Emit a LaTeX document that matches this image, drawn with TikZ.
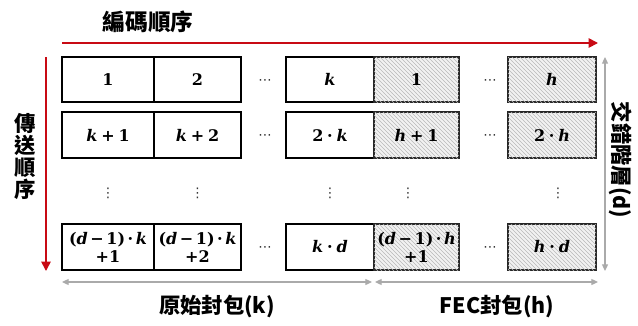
\documentclass[tikz,border=0pt]{standalone}
\usepackage{fontspec}
\newfontfamily\cjk{Noto Sans CJK TC}
\newfontfamily\cellfont{DejaVu Serif}
\newfontfamily\symfont{DejaVu Sans}
\usetikzlibrary{patterns,arrows.meta}
\definecolor{ordred}{RGB}{200,10,20}
\definecolor{dimarrow}{RGB}{170,170,170}
\newcommand\vi[1]{\textit{#1}}
\newcommand\op[1]{\hspace{0.24em}#1\hspace{0.24em}}
\newcommand\opn[1]{\hspace{0.16em}#1\hspace{0.16em}}
\tikzset{
  cell/.style={draw=black, line width=1.1pt, inner sep=0pt, font=\cellfont\bfseries\fontsize{12}{13.5}\selectfont, align=center},
  fec/.style={cell, draw=black!85, fill=gray!10, postaction={pattern=north west lines, pattern color=gray!55}},
  redarrow/.style={draw=ordred, line width=1.3pt, -{Triangle[length=7pt,width=7pt]}},
  grayarrow/.style={draw=dimarrow, line width=0.9pt, {Triangle[length=5pt,width=4.5pt]}-{Triangle[length=5pt,width=4.5pt]}},
  lbl/.style={font=\cjk\bfseries\fontsize{16}{18}\selectfont, inner sep=0pt},
  dotsnode/.style={font=\symfont\fontsize{10}{12}\selectfont, inner sep=0pt, text=black!80}
}
\begin{document}
\begin{tikzpicture}[x=0.75pt,y=-0.75pt]
\useasboundingbox (0,0) rectangle (638,325);
% row 1
\node[cell, minimum width=92*0.75pt, minimum height=45*0.75pt] (a11) at (108,79.5) {1};
\node[cell, minimum width=87*0.75pt, minimum height=45*0.75pt] (a12) at (197.5,79.5) {2};
\node[cell, minimum width=88*0.75pt, minimum height=45*0.75pt] (a1k) at (330,79.5) {\vi{k}};
\node[fec, minimum width=85*0.75pt, minimum height=45*0.75pt] (b11) at (416.5,79.5) {1};
\node[fec, minimum width=88*0.75pt, minimum height=45*0.75pt] (b1h) at (552,79.5) {\vi{h}};
% row 2
\node[cell, minimum width=92*0.75pt, minimum height=46*0.75pt] (a21) at (108,135) {\vi{k}\op{+}1};
\node[cell, minimum width=87*0.75pt, minimum height=46*0.75pt] (a22) at (197.5,135) {\vi{k}\op{+}2};
\node[cell, minimum width=88*0.75pt, minimum height=46*0.75pt] (a2k) at (330,135) {2\op{·}\vi{k}};
\node[fec, minimum width=85*0.75pt, minimum height=46*0.75pt] (b21) at (416.5,135) {\vi{h}\op{+}1};
\node[fec, minimum width=88*0.75pt, minimum height=46*0.75pt] (b2h) at (552,135) {2\op{·}\vi{h}};
% row d
\node[cell, minimum width=92*0.75pt, minimum height=46*0.75pt] (ad1) at (108,247) {(\vi{d}\opn{−}1)\opn{·}\vi{k}\\+1};
\node[cell, minimum width=87*0.75pt, minimum height=46*0.75pt] (ad2) at (197.5,247) {(\vi{d}\opn{−}1)\opn{·}\vi{k}\\+2};
\node[cell, minimum width=88*0.75pt, minimum height=46*0.75pt] (adk) at (330,247) {\vi{k}\op{·}\vi{d}};
\node[fec, minimum width=85*0.75pt, minimum height=46*0.75pt] (bd1) at (416.5,247) {(\vi{d}\opn{−}1)\opn{·}\vi{h}\\+1};
\node[fec, minimum width=88*0.75pt, minimum height=46*0.75pt] (bdh) at (552,247) {\vi{h}\op{·}\vi{d}};
% horizontal dots
\foreach \y/\n in {82/1,137.5/2,249.5/d}{
  \node[dotsnode] (hd\n a) at (265,\y) {⋯};
  \node[dotsnode] (hd\n b) at (490,\y) {⋯};
}
% vertical dots
\foreach \x/\n in {108/1,197.5/2,330/3,408/4,558/5}{
  \node[dotsnode] (vd\n) at (\x,193) {⋮};
}
% red arrows
\coordinate (ts) at (62,43);
\coordinate (te) at (598,43);
\draw[redarrow] (ts) -- (te);
\coordinate (ls) at (46,57);
\coordinate (le) at (46,271);
\draw[redarrow] (ls) -- (le);
% gray arrows
\coordinate (rs) at (605,57);
\coordinate (re) at (605,271);
\draw[grayarrow] (rs) -- (re);
\coordinate (bl1) at (62,282);
\coordinate (bl2) at (372,282);
\coordinate (br1) at (375,282);
\coordinate (br2) at (598,282);
\draw[grayarrow] (bl1) -- (bl2);
\draw[grayarrow] (br1) -- (br2);
% labels
\node[lbl, font=\cjk\bfseries\fontsize{17}{18}\selectfont] (title) at (148,22) {編碼順序};
\node[lbl, align=center, font=\cjk\bfseries\fontsize{16}{16.5}\selectfont] (left) at (25,156) {傳\\送\\順\\序};
\node[lbl, rotate=-90] (right) at (621,160) {交錯階層(d)};
\node[lbl] (origk) at (217,307) {原始封包(k)};
\node[lbl] (fech) at (497,307) {FEC封包(h)};
\end{tikzpicture}
\end{document}
